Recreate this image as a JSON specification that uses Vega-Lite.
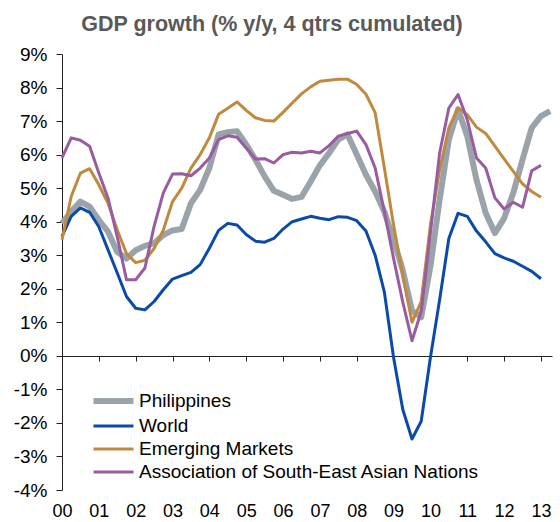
{
  "$schema": "https://vega.github.io/schema/vega-lite/v6.json",
  "autosize": {"type": "none"},
  "padding": {"left": 62, "top": 54, "right": 8, "bottom": 32},
  "width": 490,
  "height": 436,
  "title": {"text": "GDP growth (% y/y, 4 qtrs cumulated)", "fontSize": 21.5, "fontWeight": "bold", "color": "#595959", "font": "Liberation Sans", "anchor": "middle", "dx": -35, "offset": 10},
  "config": {"view": {"stroke": null}, "font": "Liberation Sans"},
  "data": {"values": [
    {"t": 2000.00, "PH": 3.95, "W": 3.56, "EM": 3.46, "AS": 5.9},
    {"t": 2000.25, "PH": 4.3, "W": 4.16, "EM": 4.75, "AS": 6.5},
    {"t": 2000.50, "PH": 4.6, "W": 4.41, "EM": 5.45, "AS": 6.43},
    {"t": 2000.75, "PH": 4.45, "W": 4.28, "EM": 5.58, "AS": 6.25},
    {"t": 2001.00, "PH": 4.05, "W": 3.85, "EM": 5.1, "AS": 5.45},
    {"t": 2001.25, "PH": 3.7, "W": 3.16, "EM": 4.55, "AS": 4.7},
    {"t": 2001.50, "PH": 3.1, "W": 2.47, "EM": 3.75, "AS": 3.55},
    {"t": 2001.75, "PH": 2.9, "W": 1.77, "EM": 3.05, "AS": 2.27},
    {"t": 2002.00, "PH": 3.15, "W": 1.42, "EM": 2.78, "AS": 2.27},
    {"t": 2002.25, "PH": 3.28, "W": 1.37, "EM": 2.85, "AS": 2.62},
    {"t": 2002.50, "PH": 3.36, "W": 1.62, "EM": 3.2, "AS": 3.86},
    {"t": 2002.75, "PH": 3.6, "W": 1.97, "EM": 3.75, "AS": 4.86},
    {"t": 2003.00, "PH": 3.74, "W": 2.29, "EM": 4.6, "AS": 5.42},
    {"t": 2003.25, "PH": 3.78, "W": 2.39, "EM": 5.0, "AS": 5.43},
    {"t": 2003.50, "PH": 4.55, "W": 2.49, "EM": 5.6, "AS": 5.37},
    {"t": 2003.75, "PH": 4.95, "W": 2.72, "EM": 6.0, "AS": 5.6},
    {"t": 2004.00, "PH": 5.6, "W": 3.21, "EM": 6.5, "AS": 5.9},
    {"t": 2004.25, "PH": 6.6, "W": 3.74, "EM": 7.2, "AS": 6.45},
    {"t": 2004.50, "PH": 6.67, "W": 3.95, "EM": 7.38, "AS": 6.56},
    {"t": 2004.75, "PH": 6.7, "W": 3.9, "EM": 7.57, "AS": 6.52},
    {"t": 2005.00, "PH": 6.3, "W": 3.62, "EM": 7.32, "AS": 6.2},
    {"t": 2005.25, "PH": 5.85, "W": 3.42, "EM": 7.1, "AS": 5.87},
    {"t": 2005.50, "PH": 5.35, "W": 3.39, "EM": 7.02, "AS": 5.88},
    {"t": 2005.75, "PH": 4.92, "W": 3.5, "EM": 7.0, "AS": 5.75},
    {"t": 2006.00, "PH": 4.8, "W": 3.78, "EM": 7.26, "AS": 6.0},
    {"t": 2006.25, "PH": 4.68, "W": 4.0, "EM": 7.54, "AS": 6.07},
    {"t": 2006.50, "PH": 4.74, "W": 4.08, "EM": 7.81, "AS": 6.05},
    {"t": 2006.75, "PH": 5.2, "W": 4.16, "EM": 8.02, "AS": 6.1},
    {"t": 2007.00, "PH": 5.68, "W": 4.1, "EM": 8.19, "AS": 6.05},
    {"t": 2007.25, "PH": 6.05, "W": 4.06, "EM": 8.22, "AS": 6.27},
    {"t": 2007.50, "PH": 6.45, "W": 4.15, "EM": 8.25, "AS": 6.55},
    {"t": 2007.75, "PH": 6.6, "W": 4.13, "EM": 8.25, "AS": 6.63},
    {"t": 2008.00, "PH": 6.0, "W": 4.03, "EM": 8.09, "AS": 6.7},
    {"t": 2008.25, "PH": 5.4, "W": 3.72, "EM": 7.8, "AS": 6.3},
    {"t": 2008.50, "PH": 4.9, "W": 3.0, "EM": 7.25, "AS": 5.6},
    {"t": 2008.75, "PH": 4.3, "W": 1.9, "EM": 5.6, "AS": 4.3},
    {"t": 2009.00, "PH": 3.46, "W": -0.05, "EM": 3.9, "AS": 2.9},
    {"t": 2009.25, "PH": 2.55, "W": -1.6, "EM": 2.4, "AS": 1.6},
    {"t": 2009.50, "PH": 1.35, "W": -2.48, "EM": 1.0, "AS": 0.45},
    {"t": 2009.75, "PH": 1.15, "W": -1.95, "EM": 1.62, "AS": 1.32},
    {"t": 2010.00, "PH": 2.67, "W": -0.05, "EM": 3.9, "AS": 3.66},
    {"t": 2010.25, "PH": 4.66, "W": 1.67, "EM": 5.55, "AS": 6.05},
    {"t": 2010.50, "PH": 6.45, "W": 3.5, "EM": 6.8, "AS": 7.39},
    {"t": 2010.75, "PH": 7.35, "W": 4.25, "EM": 7.39, "AS": 7.79},
    {"t": 2011.00, "PH": 6.55, "W": 4.16, "EM": 7.19, "AS": 7.04},
    {"t": 2011.25, "PH": 5.25, "W": 3.72, "EM": 6.82, "AS": 5.9},
    {"t": 2011.50, "PH": 4.26, "W": 3.4, "EM": 6.63, "AS": 5.6},
    {"t": 2011.75, "PH": 3.66, "W": 3.05, "EM": 6.25, "AS": 4.71},
    {"t": 2012.00, "PH": 4.1, "W": 2.92, "EM": 5.87, "AS": 4.38},
    {"t": 2012.25, "PH": 4.86, "W": 2.82, "EM": 5.5, "AS": 4.58},
    {"t": 2012.50, "PH": 5.85, "W": 2.67, "EM": 5.13, "AS": 4.43},
    {"t": 2012.75, "PH": 6.8, "W": 2.52, "EM": 4.9, "AS": 5.52},
    {"t": 2013.00, "PH": 7.15, "W": 2.3, "EM": 4.73, "AS": 5.68},
    {"t": 2013.25, "PH": 7.3}
  ]},
  "transform": [
    {"fold": ["PH", "W", "EM", "AS"], "as": ["series", "value"]},
    {"filter": "isValid(datum.value)"}
  ],
  "encoding": {
    "y": {"field": "value", "type": "quantitative",
      "scale": {"domain": [-4, 9], "nice": false, "zero": false},
      "axis": {"title": null, "grid": false, "values": [-4,-3,-2,-1,0,1,2,3,4,5,6,7,8,9], "labelExpr": "datum.value + '%'", "labelFontSize": 19, "labelColor": "#000", "labelFont": "Liberation Sans", "tickSize": 6, "labelPadding": 9, "domainColor": "#222", "tickColor": "#222"}},
    "color": {"field": "series", "type": "nominal",
      "scale": {"domain": ["PH", "W", "EM", "AS"], "range": ["#9AA3A9", "#0A4BAA", "#C08A3E", "#995CA0"]},
      "legend": {"orient": "none", "legendX": 54, "legendY": 337.5, "title": null, "padding": 0,
        "symbolType": "M-4,0H1", "symbolSize": 256, "symbolStrokeWidth": 3,
        "labelFontSize": 19, "labelFont": "Liberation Sans", "labelColor": "#000", "labelOffset": 4, "rowPadding": 3, "labelLimit": 0,
        "labelExpr": "datum.label === 'PH' ? 'Philippines' : datum.label === 'W' ? 'World' : datum.label === 'EM' ? 'Emerging Markets' : 'Association of South-East Asian Nations'",
        "encode": {"symbols": {"update": {"strokeWidth": {"signal": "datum.value === 'PH' ? 6 : 3"}}}}}}
  },
  "layer": [
    {
      "transform": [{"filter": "datum.series === 'PH'"}],
      "mark": {"type": "line", "strokeWidth": 6, "strokeJoin": "round"},
      "encoding": {
        "x": {"field": "t", "type": "quantitative", "scale": {"domain": [2000, 2013.3], "nice": false, "zero": false},
          "axis": {"orient": "bottom", "offset": -134, "labels": false, "ticks": true, "tickSize": 5, "domain": true, "grid": false, "title": null, "values": [2000,2001,2002,2003,2004,2005,2006,2007,2008,2009,2010,2011,2012,2013], "domainColor": "#222", "tickColor": "#222"}}
      }
    },
    {
      "transform": [{"filter": "datum.series !== 'PH'"}],
      "mark": {"type": "line", "strokeWidth": 3, "strokeJoin": "round"},
      "encoding": {
        "x": {"field": "t", "type": "quantitative", "scale": {"domain": [2000, 2013.3], "nice": false, "zero": false},
          "axis": {"orient": "bottom", "labels": true, "ticks": false, "domain": false, "grid": false, "title": null, "values": [2000,2001,2002,2003,2004,2005,2006,2007,2008,2009,2010,2011,2012,2013], "labelExpr": "slice(toString(datum.value), 2)", "labelFontSize": 18, "labelColor": "#000", "labelFont": "Liberation Sans", "labelPadding": 12, "labelFlush": false}}
      }
    }
  ],
  "resolve": {"axis": {"x": "independent"}}
}
